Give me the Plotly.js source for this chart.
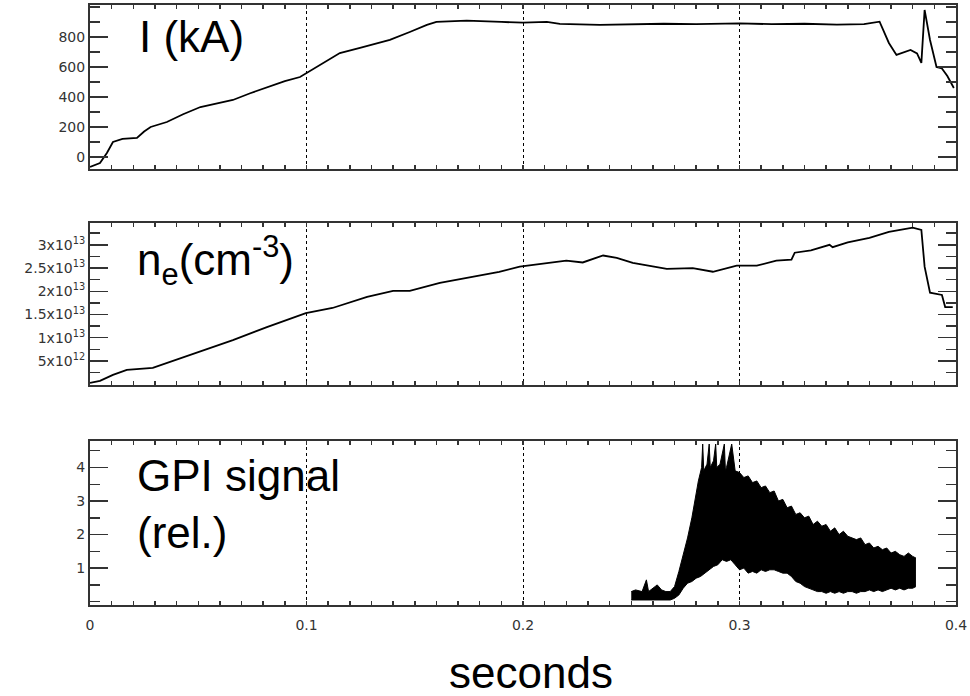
<!DOCTYPE html>
<html>
<head>
<meta charset="utf-8">
<script src="https://cdn.plot.ly/plotly-3.0.1.min.js"></script>
<style>html,body{margin:0;padding:0;background:#fff;}#chart{width:970px;height:696px;}</style>
</head>
<body>
<div id="chart"></div>
<script>
// Plasma current I (kA)
var I_t = [0, 0.0046, 0.0078, 0.0106, 0.015, 0.0217, 0.025, 0.028, 0.0355, 0.043, 0.051, 0.058, 0.066, 0.074, 0.082, 0.09, 0.097, 0.1, 0.106, 0.1154, 0.1247, 0.1385, 0.1477, 0.1556, 0.16, 0.174, 0.19, 0.2, 0.211, 0.217, 0.2355, 0.25, 0.265, 0.28, 0.3, 0.315, 0.33, 0.345, 0.3575, 0.3647, 0.369, 0.3725, 0.376, 0.379, 0.382, 0.384, 0.3855, 0.388, 0.391, 0.3935, 0.396, 0.399];
var I_v = [-67, -40, 27, 100, 120, 127, 170, 200, 233, 285, 333, 355, 380, 425, 467, 505, 533, 560, 613, 693, 727, 780, 833, 880, 900, 909, 900, 895, 900, 887, 880, 885, 888, 885, 890, 885, 888, 882, 885, 902, 760, 680, 700, 713, 690, 627, 980, 780, 600, 590, 540, 460];

// Electron density n_e (units of 1e13 cm^-3)
var ne_t = [0, 0.0046, 0.0106, 0.017, 0.029, 0.0416, 0.055, 0.066, 0.0817, 0.0997, 0.112, 0.128, 0.14, 0.1477, 0.1616, 0.177, 0.189, 0.1985, 0.2138, 0.22, 0.2276, 0.237, 0.2433, 0.2507, 0.2664, 0.2784, 0.2877, 0.2987, 0.308, 0.317, 0.324, 0.3255, 0.333, 0.3416, 0.343, 0.35, 0.36, 0.369, 0.38, 0.384, 0.3855, 0.388, 0.3935, 0.395, 0.3985];
var ne_v = [0.03, 0.07, 0.2, 0.31, 0.35, 0.56, 0.78, 0.95, 1.23, 1.53, 1.64, 1.88, 2.01, 2.01, 2.18, 2.32, 2.42, 2.53, 2.62, 2.66, 2.62, 2.77, 2.72, 2.61, 2.48, 2.50, 2.42, 2.55, 2.55, 2.66, 2.68, 2.83, 2.88, 3.0, 2.95, 3.05, 3.15, 3.28, 3.37, 3.32, 2.53, 1.97, 1.92, 1.66, 1.66];

// GPI signal (rel.) - upper and lower envelope of the noisy trace
var gpi_up_t = [0.250, 0.252, 0.255, 0.257, 0.258, 0.260, 0.262, 0.264, 0.266, 0.268, 0.270, 0.272, 0.274, 0.276, 0.278, 0.280, 0.281, 0.2825, 0.283, 0.2835, 0.285, 0.286, 0.2865, 0.288, 0.289, 0.2895, 0.291, 0.293, 0.2935, 0.294, 0.2964, 0.298, 0.300, 0.302, 0.304, 0.306, 0.308, 0.310, 0.312, 0.314, 0.316, 0.318, 0.320, 0.322, 0.324, 0.326, 0.328, 0.330, 0.332, 0.334, 0.336, 0.338, 0.340, 0.342, 0.344, 0.346, 0.348, 0.350, 0.352, 0.354, 0.356, 0.358, 0.360, 0.362, 0.364, 0.366, 0.368, 0.370, 0.372, 0.374, 0.376, 0.378, 0.380, 0.3815];
var gpi_up_v = [0.3, 0.35, 0.3, 0.65, 0.3, 0.4, 0.5, 0.35, 0.3, 0.3, 0.45, 0.9, 1.4, 1.9, 2.5, 3.2, 3.6, 4.0, 4.7, 3.9, 4.1, 4.7, 4.0, 4.2, 4.7, 4.0, 4.1, 4.7, 3.9, 4.0, 4.7, 3.9, 3.85, 3.7, 3.75, 3.55, 3.6, 3.4, 3.45, 3.25, 3.3, 3.0, 3.05, 2.8, 2.85, 2.6, 2.65, 2.5, 2.55, 2.3, 2.4, 2.25, 2.3, 2.1, 2.2, 2.0, 2.1, 1.95, 1.9, 1.85, 1.9, 1.7, 1.75, 1.6, 1.65, 1.55, 1.6, 1.45, 1.5, 1.4, 1.35, 1.45, 1.35, 1.3];
var gpi_lo_t = [0.250, 0.268, 0.270, 0.272, 0.274, 0.276, 0.278, 0.280, 0.282, 0.284, 0.286, 0.288, 0.290, 0.292, 0.294, 0.296, 0.298, 0.300, 0.302, 0.304, 0.306, 0.308, 0.310, 0.312, 0.314, 0.316, 0.318, 0.320, 0.322, 0.324, 0.326, 0.328, 0.330, 0.332, 0.334, 0.336, 0.338, 0.340, 0.342, 0.344, 0.346, 0.348, 0.350, 0.352, 0.354, 0.356, 0.358, 0.360, 0.362, 0.364, 0.366, 0.368, 0.370, 0.372, 0.374, 0.376, 0.378, 0.380, 0.3815];
var gpi_lo_v = [0.05, 0.05, 0.1, 0.2, 0.4, 0.55, 0.6, 0.7, 0.75, 0.85, 0.95, 1.05, 1.1, 1.25, 1.2, 1.25, 1.1, 0.95, 1.0, 0.85, 0.9, 0.85, 0.95, 0.9, 0.95, 0.95, 0.9, 0.85, 0.85, 0.75, 0.6, 0.55, 0.45, 0.4, 0.35, 0.3, 0.3, 0.25, 0.3, 0.25, 0.3, 0.25, 0.3, 0.3, 0.25, 0.3, 0.3, 0.35, 0.3, 0.35, 0.3, 0.35, 0.4, 0.35, 0.4, 0.35, 0.4, 0.4, 0.45];

// Tick labels
var xTickVals = [0, 0.1, 0.2, 0.3, 0.4];
var xTickText = ['0', '0.1', '0.2', '0.3', '0.4'];
var I_tickVals = [0, 200, 400, 600, 800];
var ne_tickVals = [0.5, 1, 1.5, 2, 2.5, 3];
var ne_tickText = ['5x10<sup>12</sup>', '1x10<sup>13</sup>', '1.5x10<sup>13</sup>', '2x10<sup>13</sup>', '2.5x10<sup>13</sup>', '3x10<sup>13</sup>'];
var gpi_tickVals = [1, 2, 3, 4];

var lineStyle = {color: '#000', width: 1.8};
var traces = [
  {x: I_t, y: I_v, type: 'scatter', mode: 'lines', line: lineStyle, xaxis: 'x', yaxis: 'y', hoverinfo: 'skip'},
  {x: ne_t, y: ne_v, type: 'scatter', mode: 'lines', line: lineStyle, xaxis: 'x2', yaxis: 'y2', hoverinfo: 'skip'},
  {x: gpi_lo_t, y: gpi_lo_v, type: 'scatter', mode: 'lines', line: {color: '#000', width: 1}, xaxis: 'x3', yaxis: 'y3', hoverinfo: 'skip'},
  {x: gpi_up_t, y: gpi_up_v, type: 'scatter', mode: 'lines', line: {color: '#000', width: 1}, fill: 'tonexty', fillcolor: '#000', xaxis: 'x3', yaxis: 'y3', hoverinfo: 'skip'}
];

var tickFont = {family: 'DejaVu Sans', size: 14, color: '#333'};
function xax(anchor, showLabels) {
  return {
    anchor: anchor, domain: [0, 1], range: [0, 0.4],
    tickmode: 'array', tickvals: xTickVals, ticktext: xTickText,
    showticklabels: showLabels, tickfont: tickFont, ticklabelstandoff: 6,
    ticks: 'inside', ticklen: 4, tickwidth: 1.5, tickcolor: '#333',
    minor: {dtick: 0.01, tick0: 0, ticks: 'inside', ticklen: 4, tickwidth: 1.5, tickcolor: '#333', showgrid: false},
    showgrid: true, gridcolor: '#000', griddash: 'dot', gridwidth: 1,
    showline: true, linecolor: '#333', linewidth: 2, mirror: 'allticks', zeroline: false
  };
}
function yax(anchor, domain, range, vals, text, minorDtick) {
  var a = {
    anchor: anchor, domain: domain, range: range,
    tickmode: 'array', tickvals: vals, tickfont: tickFont,
    ticks: 'inside', ticklen: 18, tickwidth: 1.5, tickcolor: '#333',
    minor: {dtick: minorDtick, tick0: 0, ticks: 'inside', ticklen: 10, tickwidth: 1.5, tickcolor: '#333', showgrid: false},
    showgrid: false, showline: true, linecolor: '#333', linewidth: 2, mirror: 'allticks', zeroline: false
  };
  if (text) a.ticktext = text;
  return a;
}

var annFont = {family: 'Liberation Sans', size: 44, color: '#000'};
var layout = {
  width: 970, height: 696,
  margin: {l: 90, r: 14, t: 5, b: 91},
  paper_bgcolor: '#fff', plot_bgcolor: '#fff',
  showlegend: false,
  xaxis: xax('y', false),
  xaxis2: xax('y2', false),
  xaxis3: xax('y3', true),
  yaxis: yax('x', [0.7267, 1], [-80, 1013], I_tickVals, null, 100),
  yaxis2: yax('x2', [0.3667, 0.6367], [-0.017, 3.47], ne_tickVals, ne_tickText, 0.25),
  yaxis3: yax('x3', [0, 0.2733], [-0.1, 4.79], gpi_tickVals, null, 0.5),
  annotations: [
    {text: 'I (kA)', xref: 'paper', yref: 'paper', x: 0.054, y: 0.947, xanchor: 'left', yanchor: 'middle', showarrow: false, font: annFont},
    {text: 'n<sub>e</sub>(cm<sup>-3</sup>)', xref: 'paper', yref: 'paper', x: 0.052, y: 0.575, xanchor: 'left', yanchor: 'middle', showarrow: false, font: annFont},
    {text: 'GPI signal<br>(rel.)', xref: 'paper', yref: 'paper', x: 0.052, y: 0.168, xanchor: 'left', yanchor: 'middle', align: 'left', showarrow: false, font: annFont},
    {text: 'seconds', xref: 'paper', yref: 'paper', x: 0.509, y: -0.112, xanchor: 'center', yanchor: 'middle', showarrow: false, font: annFont}
  ]
};

Plotly.newPlot('chart', traces, layout, {displayModeBar: false, staticPlot: true});
</script>
</body>
</html>
